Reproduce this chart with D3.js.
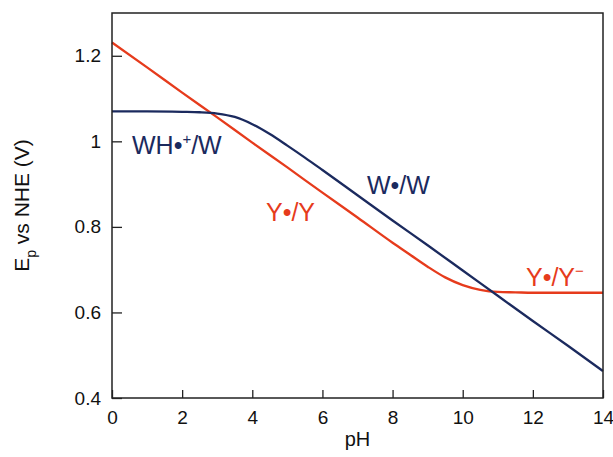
<!DOCTYPE html>
<html>
<head>
<meta charset="utf-8">
<script src="https://cdn.jsdelivr.net/npm/d3@7"></script>
<style>
  body { margin: 0; background: #fff; }
  svg { display: block; font-family: "Liberation Sans", Arial, sans-serif; }
</style>
</head>
<body>
<div id="chart"></div>
<script>
// pH grid and potentials (V vs NHE)
const phW = [0, 1, 2, 2.5, 3, 3.5, 4, 4.5, 5, 5.5, 6, 7, 8, 9, 10, 11, 12, 13, 14];
const eW  = [1.070, 1.070, 1.069, 1.068, 1.065, 1.057, 1.040, 1.017, 0.990, 0.962, 0.933, 0.874, 0.815, 0.757, 0.698, 0.639, 0.580, 0.522, 0.463];

const phY = [0, 1, 2, 3, 4, 5, 6, 7, 8, 8.5, 9, 9.5, 10, 10.5, 11, 11.5, 12, 13, 14];
const eY  = [1.231, 1.173, 1.114, 1.056, 0.997, 0.939, 0.880, 0.822, 0.763, 0.735, 0.707, 0.682, 0.664, 0.653, 0.648, 0.647, 0.646, 0.646, 0.646];

const xTicks = [0, 2, 4, 6, 8, 10, 12, 14];
const yTicks = [0.4, 0.6, 0.8, 1.0, 1.2];

(function(){
    const width = 613, height = 457;
    const margin = {top: 13, right: 10, bottom: 59, left: 112};
    const blue = "#1b2a5e", red = "#e63b1c";

    const svg = d3.select("#chart").append("svg")
        .attr("width", width)
        .attr("height", height);

    const x = d3.scaleLinear().domain([0, 14]).range([margin.left, width - margin.right]);
    const y = d3.scaleLinear().domain([0.4, 1.3]).range([height - margin.bottom, margin.top]);

    // axes with inward ticks
    const xAxis = svg.append("g")
        .attr("transform", `translate(0,${height - margin.bottom})`)
        .call(d3.axisBottom(x).tickValues(xTicks).tickSize(-8).tickPadding(13)
            .tickFormat(d3.format("d")));
    const yAxis = svg.append("g")
        .attr("transform", `translate(${margin.left},0)`)
        .call(d3.axisLeft(y).tickValues(yTicks).tickSize(-10).tickPadding(11)
            .tickFormat(d => d === 1 ? "1" : d3.format(".1f")(d)));

    [xAxis, yAxis].forEach(g => {
        g.select(".domain").remove();
        g.selectAll("line").attr("stroke", "#222").attr("stroke-width", 1.3);
        g.selectAll("text").attr("font-size", 19).attr("fill", "#111")
            .attr("font-family", "'Liberation Sans', Arial, sans-serif");
    });

    // lines
    const line = d3.line().curve(d3.curveMonotoneX);
    svg.append("path")
        .attr("d", line(phY.map((p, i) => [x(p), y(eY[i])])))
        .attr("fill", "none").attr("stroke", red).attr("stroke-width", 2.3);
    svg.append("path")
        .attr("d", line(phW.map((p, i) => [x(p), y(eW[i])])))
        .attr("fill", "none").attr("stroke", blue).attr("stroke-width", 2.3);

    // frame
    svg.append("rect")
        .attr("x", x(0)).attr("y", y(1.3))
        .attr("width", x(14) - x(0)).attr("height", y(0.4) - y(1.3))
        .attr("fill", "none").attr("stroke", "#222").attr("stroke-width", 1.5);

    // curve labels
    const lab = (px, py, color) => svg.append("text")
        .attr("x", px).attr("y", py).attr("fill", color)
        .attr("font-size", 25);

    const t1 = lab(132, 154, blue);
    t1.append("tspan").text("WH•");
    t1.append("tspan").text("+").attr("font-size", 15).attr("dy", -10);
    t1.append("tspan").text("/W").attr("dy", 10);

    lab(367, 194, blue).text("W•/W");
    lab(266, 221, red).text("Y•/Y");

    const t4 = lab(526, 286, red);
    t4.append("tspan").text("Y•/Y");
    t4.append("tspan").text("−").attr("font-size", 15).attr("dy", -10);

    // axis titles
    svg.append("text")
        .attr("x", x(7)).attr("y", 446)
        .attr("text-anchor", "middle").attr("font-size", 20).attr("fill", "#111")
        .text("pH");

    const yt = svg.append("text")
        .attr("transform", `translate(29,${(y(0.4) + y(1.3)) / 2}) rotate(-90)`)
        .attr("text-anchor", "middle").attr("font-size", 21).attr("fill", "#111");
    yt.append("tspan").text("E");
    yt.append("tspan").text("p").attr("font-size", 14).attr("dy", 7);
    yt.append("tspan").text(" vs NHE (V)").attr("dy", -7);
})();
</script>
</body>
</html>
